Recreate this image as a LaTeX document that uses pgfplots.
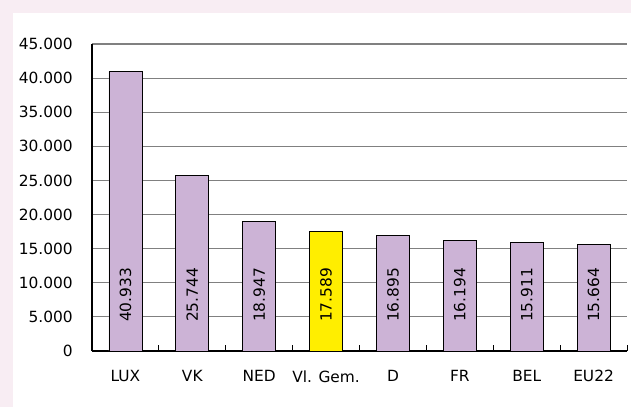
\documentclass[border=0pt]{standalone}
\usepackage{fontspec}
\setmainfont{DejaVu Sans}
\usepackage{pgfplots}
\pgfplotsset{compat=1.18}
\definecolor{bgpink}{RGB}{248,237,243}
\definecolor{barlav}{RGB}{204,179,214}
\definecolor{baryel}{RGB}{255,238,0}
\begin{document}
\fontsize{15.4bp}{18bp}\selectfont
\begin{tikzpicture}
\fill[bgpink] (0,0) rectangle (631bp,407bp);
\fill[white] (13bp,0) rectangle (631bp,394bp);
\begin{axis}[
  at={(92bp,56bp)}, anchor=south west,
  width=535bp, height=307bp, scale only axis,
  xmin=-0.5, xmax=7.5, ymin=0, ymax=45000,
  scaled y ticks=false,
  axis x line*=bottom, axis y line*=left,
  axis line style={-, black, line width=1.1bp},
  every outer x axis line/.append style={-},
  every outer y axis line/.append style={-},
  ymajorgrids, major grid style={gray, line width=1.1bp},
  ytick={0,5000,10000,15000,20000,25000,30000,35000,40000,45000},
  yticklabels={0,5.000,10.000,15.000,20.000,25.000,30.000,35.000,40.000,45.000},
  xtick={0,1,2,3,4,5,6,7},
  xticklabels={LUX,VK,NED,Vl. Gem.,D,FR,BEL,EU22},
  minor xtick={-0.5,0.5,1.5,2.5,3.5,4.5,5.5,6.5,7.5},
  major tick length=0pt, minor tick length=6bp,
  tick align=inside,
  every minor tick/.append style={black, line width=1bp},
  yticklabel style={xshift=-14bp, font=\fontsize{15.4bp}{18bp}\selectfont},
  xticklabel style={yshift=-14bp, font=\fontsize{15.4bp}{18bp}\selectfont},
  clip=false,
]
\addplot[ybar, bar width=33bp, bar shift=0pt, fill=barlav, draw=black, line width=0.8bp]
  coordinates {(0,40933) (1,25744) (2,18947) (4,16895) (5,16194) (6,15911) (7,15664)};
\addplot[ybar, bar width=33bp, bar shift=0pt, fill=baryel, draw=black, line width=0.8bp]
  coordinates {(3,17589)};
\addplot[draw=none, nodes near coords, point meta=explicit symbolic,
  every node near coord/.append style={rotate=90, anchor=west, inner sep=0pt, black,
    font=\fontsize{15.4bp}{18bp}\selectfont}]
  coordinates {(0,4250)[40.933] (1,4250)[25.744] (2,4250)[18.947] (3,4250)[17.589]
               (4,4250)[16.895] (5,4250)[16.194] (6,4250)[15.911] (7,4250)[15.664]};
\end{axis}
\pgfresetboundingbox
\path (0,0) rectangle (631bp,407bp);
\end{tikzpicture}
\end{document}
